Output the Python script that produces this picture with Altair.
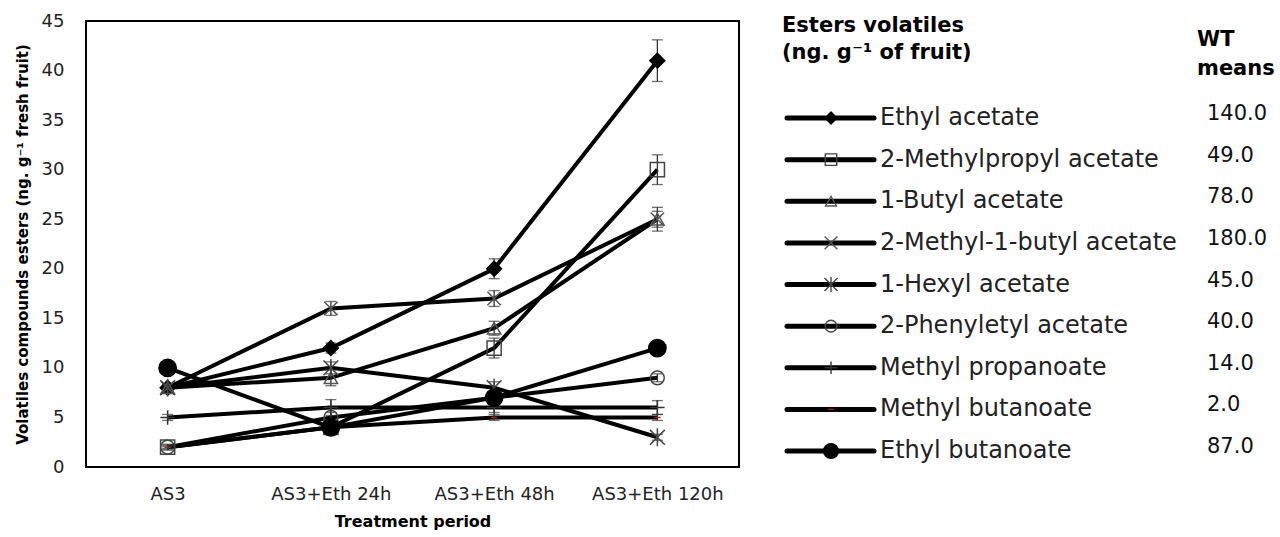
import altair as alt
import pandas as pd

# Treatment periods along the x axis
periods = ["AS3", "AS3+Eth 24h", "AS3+Eth 48h", "AS3+Eth 120h"]

# Ester compounds (legend order) and wild-type means
compounds = [
    "Ethyl acetate",
    "2-Methylpropyl acetate",
    "1-Butyl acetate",
    "2-Methyl-1-butyl acetate",
    "1-Hexyl acetate",
    "2-Phenyletyl acetate",
    "Methyl propanoate",
    "Methyl butanoate",
    "Ethyl butanoate",
]
wt_means = [140.0, 49.0, 78.0, 180.0, 45.0, 40.0, 14.0, 2.0, 87.0]

# Mean concentrations (ng/g fresh fruit) per treatment period
ethyl_acetate = [8, 12, 20, 41]
methylpropyl_acetate = [2, 4, 12, 30]
butyl_acetate = [8, 9, 14, 25]
methylbutyl_acetate = [8, 16, 17, 25]
hexyl_acetate = [8, 10, 8, 3]
phenylethyl_acetate = [2, 5, 7, 9]
methyl_propanoate = [5, 6, 6, 6]
methyl_butanoate = [2, 4, 5, 5]
ethyl_butanoate = [10, 4, 7, 12]

# Standard errors
ethyl_acetate_err = [0.3, 0.5, 1.0, 2.1]
methylpropyl_acetate_err = [0.3, 0.4, 1.0, 1.5]
butyl_acetate_err = [0.4, 0.8, 0.7, 0.8]
methylbutyl_acetate_err = [0.3, 0.7, 0.8, 1.2]
hexyl_acetate_err = [0.3, 0.6, 0.6, 0.3]
phenylethyl_acetate_err = [0.2, 0.5, 0.3, 0.4]
methyl_propanoate_err = [0.3, 0.8, 0.5, 0.7]
methyl_butanoate_err = [0.1, 0.2, 0.3, 0.3]
ethyl_butanoate_err = [0.3, 0.3, 0.4, 0.4]

series = [ethyl_acetate, methylpropyl_acetate, butyl_acetate, methylbutyl_acetate,
          hexyl_acetate, phenylethyl_acetate, methyl_propanoate, methyl_butanoate,
          ethyl_butanoate]
series_err = [ethyl_acetate_err, methylpropyl_acetate_err, butyl_acetate_err,
              methylbutyl_acetate_err, hexyl_acetate_err, phenylethyl_acetate_err,
              methyl_propanoate_err, methyl_butanoate_err, ethyl_butanoate_err]

rows = []
for name, vals, errs in zip(compounds, series, series_err):
    for i, (p, v, e) in enumerate(zip(periods, vals, errs)):
        rows.append({"compound": name, "period": p, "step": i,
                     "value": v, "lo": v - e, "hi": v + e})
df = pd.DataFrame(rows)
legend_df = pd.DataFrame({"compound": compounds, "wt": wt_means})

# Marker styling per compound
marker_shapes = [
    "diamond",
    "square",
    "triangle-up",
    "M-1,-1L1,1M-1,1L1,-1",
    "M-1,-1L1,1M-1,1L1,-1M0,-1.2L0,1.2",
    "circle",
    "M0,-1L0,1M-1,0L1,0",
    "M-1,0L1,0",
    "circle",
]
marker_fills = ["black", "transparent", "transparent", "transparent", "transparent",
                "transparent", "transparent", "transparent", "black"]
marker_strokes = ["black", "#444444", "#555555", "#555555", "#444444", "#444444",
                  "#333333", "#9b2335", "black"]
marker_sizes = [220, 200, 180, 180, 220, 190, 210, 40, 300]
legend_sizes = [140, 130, 120, 160, 170, 140, 160, 30, 220]

FONT = "DejaVu Sans"

shape_enc = alt.Shape("compound:N", scale=alt.Scale(domain=compounds, range=marker_shapes), legend=None)
fill_enc = alt.Fill("compound:N", scale=alt.Scale(domain=compounds, range=marker_fills), legend=None)
stroke_enc = alt.Stroke("compound:N", scale=alt.Scale(domain=compounds, range=marker_strokes), legend=None)

x_enc = alt.X(
    "period:N",
    sort=periods,
    scale=alt.Scale(type="point", padding=0.5),
    axis=alt.Axis(
        title="Treatment period", labelAngle=0, domain=False, ticks=False, grid=False,
        labelFont=FONT, labelFontSize=18, labelColor="#222222", labelPadding=18,
        titleFont=FONT, titleFontSize=16, titleFontWeight="bold", titleColor="black",
        titlePadding=10,
    ),
)
y_enc = alt.Y(
    "value:Q",
    scale=alt.Scale(domain=[0, 45]),
    axis=alt.Axis(
        title="Volatiles compounds esters (ng. g\u207b\u00b9 fresh fruit)",
        values=list(range(0, 50, 5)), domain=False, ticks=False, grid=False,
        labelFont=FONT, labelFontSize=18, labelColor="#222222", labelPadding=22,
        titleFont=FONT, titleFontSize=15, titleFontWeight="bold", titleColor="black",
        titlePadding=11,
    ),
)

base = alt.Chart(df)
lines = base.mark_line(color="black", strokeWidth=4).encode(
    x=x_enc, y=y_enc, detail="compound:N", order="step:Q"
)
err_rule = base.mark_rule(color="#333333", strokeWidth=1.3).encode(
    x=alt.X("period:N", sort=periods), y="lo:Q", y2="hi:Q"
)
err_lo = base.mark_tick(color="#333333", thickness=1.3, size=11).encode(
    x=alt.X("period:N", sort=periods), y="lo:Q"
)
err_hi = base.mark_tick(color="#333333", thickness=1.3, size=11).encode(
    x=alt.X("period:N", sort=periods), y="hi:Q"
)
points = base.mark_point(filled=True, strokeWidth=1.5, opacity=1).encode(
    x=alt.X("period:N", sort=periods),
    y="value:Q",
    shape=shape_enc,
    fill=fill_enc,
    stroke=stroke_enc,
    size=alt.Size("compound:N", scale=alt.Scale(type="ordinal", domain=compounds, range=marker_sizes), legend=None),
)

main = alt.layer(lines, err_rule, err_lo, err_hi, points).properties(
    width=653, height=446,
    view=alt.ViewBackground(stroke="black", strokeWidth=2),
)

# Custom legend panel
ly = alt.Y("compound:N", scale=alt.Scale(type="point", domain=compounds, range=[97, 430], padding=0), axis=None)
lbase = alt.Chart(legend_df)
leg_line = lbase.mark_rule(color="black", strokeWidth=5, strokeCap="round").encode(
    x=alt.value(5), x2=alt.value(92), y=ly
)
leg_pts = lbase.mark_point(filled=True, strokeWidth=1.4, opacity=1).encode(
    x=alt.value(49), y=ly, shape=shape_enc, fill=fill_enc, stroke=stroke_enc,
    size=alt.Size("compound:N", scale=alt.Scale(type="ordinal", domain=compounds, range=legend_sizes), legend=None),
)
leg_txt = lbase.mark_text(align="left", baseline="middle", font=FONT, fontSize=24, color="#222222").encode(
    x=alt.value(98), y=ly, text="compound:N"
)
leg_wt = lbase.mark_text(align="left", baseline="middle", font=FONT, fontSize=21, color="#111111", dy=-4).encode(
    x=alt.value(425), y=ly, text=alt.Text("wt:Q", format=".1f")
)

one = alt.Data(values=[{}])
def header(text, x, y):
    return alt.Chart(one).mark_text(
        text=text, align="left", baseline="middle", font=FONT, fontSize=21,
        fontWeight="bold", color="black",
    ).encode(x=alt.value(x), y=alt.value(y))

legend = alt.layer(
    leg_line, leg_pts, leg_txt, leg_wt,
    header("Esters volatiles", 0, 5),
    header("(ng. g\u207b\u00b9 of fruit)", 0, 32),
    header("WT", 415, 19),
    header("means", 415, 48),
).properties(width=492, height=446)

chart = alt.hconcat(main, legend, spacing=42).resolve_scale(
    size="independent"
).properties(
    padding={"left": 14, "top": 11, "right": 0, "bottom": 0},
    background="white",
).configure_view(strokeWidth=0)

chart.save("out.html", embed_options={"renderer": "svg", "actions": False})
